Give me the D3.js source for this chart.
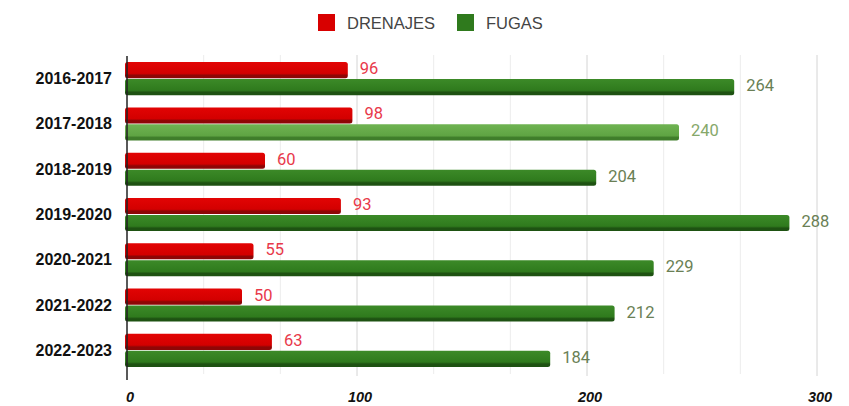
<!DOCTYPE html>
<html>
<head>
<meta charset="utf-8">
<script src="https://cdn.jsdelivr.net/npm/d3@7"></script>
<style>
html,body{margin:0;padding:0;background:#fff;}
svg{display:block;}
</style>
</head>
<body>
<svg id="chart" width="849" height="406"></svg>
<script>
const categories = ["2016-2017","2017-2018","2018-2019","2019-2020","2020-2021","2021-2022","2022-2023"];
const seriesNames = ["DRENAJES","FUGAS"];
const drenajes = [96,98,60,93,55,50,63];
const fugas = [264,240,204,288,229,212,184];
const xTicks = [0,100,200,300];
const highlighted = "2017-2018";

const svg = d3.select("#chart");
const defs = svg.append("defs");
function grad(id, top, mid, bot){
  const g = defs.append("linearGradient").attr("id", id).attr("x1",0).attr("y1",0).attr("x2",0).attr("y2",1);
  g.append("stop").attr("offset","0%").attr("stop-color", top);
  g.append("stop").attr("offset","70%").attr("stop-color", mid);
  g.append("stop").attr("offset","82%").attr("stop-color", bot);
  g.append("stop").attr("offset","100%").attr("stop-color", bot);
}
grad("gRed", "#e20404", "#d30000", "#8e0606");
grad("gGreen", "#3c8a28", "#2f7a1d", "#1e5212");
grad("gGreenLight", "#6fb352", "#5fa443", "#3f7d2a");

const x = d3.scaleLinear().domain([0,300]).range([127,817]);
const y = d3.scaleBand().domain(categories).range([56,373]).padding(0);
const y1 = d3.scaleBand().domain(seriesNames).range([0, y.step()]).paddingInner(0.05).paddingOuter(0.36);

// minor gridlines
const minor = d3.range(1,9).map(i => i*100/3).filter(v => Math.abs(v % 100) > 1 && Math.abs(v%100) < 99);
svg.append("g").selectAll("line").data(minor).join("line")
  .attr("x1", d=>x(d)).attr("x2", d=>x(d)).attr("y1",55).attr("y2",374)
  .attr("stroke","#ececec").attr("stroke-width",1);
// major gridlines
svg.append("g").selectAll("line").data(xTicks.filter(d=>d>0)).join("line")
  .attr("x1", d=>x(d)).attr("x2", d=>x(d)).attr("y1",55).attr("y2",376)
  .attr("stroke","#d4d4d4").attr("stroke-width",1);

const data = categories.map((c,i)=>({cat:c, vals:[{s:"DRENAJES", v:drenajes[i]},{s:"FUGAS", v:fugas[i]}]}));

const groups = svg.append("g").selectAll("g").data(data).join("g")
  .attr("transform", d=>`translate(0,${y(d.cat)})`);

groups.selectAll("rect").data(d=>d.vals.map(v=>({...v, cat:d.cat}))).join("rect")
  .attr("x", x(0)-2)
  .attr("y", d=>y1(d.s))
  .attr("width", d=>x(d.v)-x(0)+2)
  .attr("height", y1.bandwidth())
  .attr("rx", 2.5)
  .attr("fill", d=> d.s==="DRENAJES" ? "url(#gRed)" : (d.cat===highlighted ? "url(#gGreenLight)" : "url(#gGreen)"));

groups.selectAll("text").data(d=>d.vals.map(v=>({...v, cat:d.cat}))).join("text")
  .attr("x", d=>x(d.v)+12)
  .attr("y", d=>y1(d.s)+y1.bandwidth()/2 - 1.5)
  .attr("dominant-baseline","central")
  .attr("font-family","Roboto, 'Liberation Sans', sans-serif")
  .attr("font-size",16.5)
  .attr("fill", d=> d.s==="DRENAJES" ? "#e8394a" : (d.cat===highlighted ? "#86a86a" : "#6a7f55"))
  .text(d=>d.v);

// category labels
svg.append("g").selectAll("text").data(categories).join("text")
  .attr("x",112).attr("y", d=>y(d)+y.step()/2)
  .attr("text-anchor","end").attr("dominant-baseline","central")
  .attr("font-family","'Liberation Sans', Arial, sans-serif")
  .attr("font-weight","bold").attr("font-size",16).attr("fill","#111")
  .text(d=>d);

// zero axis line
svg.append("line").attr("x1",x(0)).attr("x2",x(0)).attr("y1",56).attr("y2",380)
  .attr("stroke","#222").attr("stroke-width",1.5);

// x tick labels
svg.append("g").selectAll("text").data(xTicks).join("text")
  .attr("x", d=>x(d)+3).attr("y",397)
  .attr("text-anchor","middle").attr("dominant-baseline","central")
  .attr("font-family","'Liberation Sans', Arial, sans-serif")
  .attr("font-weight","bold").attr("font-style","italic").attr("font-size",14.5).attr("fill","#111")
  .text(d=>d);

// legend
const legendColors = {"DRENAJES":"#d80000","FUGAS":"#2f7a1d"};
const legendX = [318, 457];
const lg = svg.append("g").selectAll("g").data(seriesNames).join("g")
  .attr("transform",(d,i)=>`translate(${legendX[i]},14)`);
lg.append("rect").attr("width",17).attr("height",17).attr("fill",d=>legendColors[d]);
lg.append("text").attr("x",29).attr("y",8.5).attr("dominant-baseline","central")
  .attr("font-family","'Liberation Sans', Arial, sans-serif").attr("font-size",16.5).attr("fill","#444")
  .text(d=>d);
</script>
</body>
</html>
